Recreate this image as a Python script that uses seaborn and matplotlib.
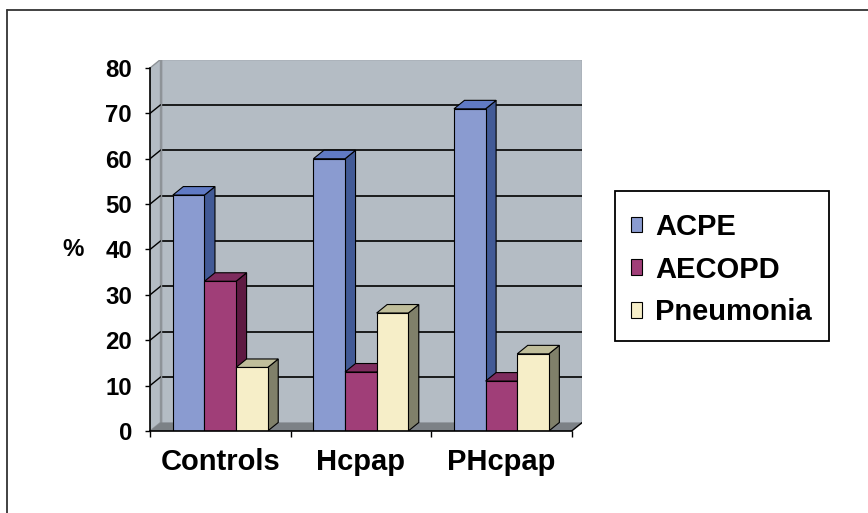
import numpy as np
import pandas as pd
import matplotlib
matplotlib.use("Agg")
import matplotlib.pyplot as plt
import seaborn as sns
from matplotlib.patches import Polygon, Patch, Rectangle
from matplotlib.lines import Line2D

# Percentages per patient group and diagnosis
groups = ["Controls", "Hcpap", "PHcpap"]
series = ["ACPE", "AECOPD", "Pneumonia"]
acpe = [52, 60, 71]
aecopd = [33, 13, 11]
pneumonia = [14, 26, 17]
y_ticks = [0, 10, 20, 30, 40, 50, 60, 70, 80]

# Face colours for the pseudo-3D columns: front, side, top
front_colors = {"ACPE": "#8a9bd0", "AECOPD": "#a03e78", "Pneumonia": "#f6eec8"}
side_colors = {"ACPE": "#425a96", "AECOPD": "#5e1a42", "Pneumonia": "#80806a"}
top_colors = {"ACPE": "#607ac4", "AECOPD": "#7e2c5e", "Pneumonia": "#c0be9b"}
wall_color = "#b4bcc4"
floor_color = "#7c8186"

df = pd.DataFrame({
    "group": groups * 3,
    "series": [s for s in series for _ in groups],
    "value": acpe + aecopd + pneumonia,
})

W, H = 868, 513
sns.set_style("white")
plt.rcParams["font.family"] = ["Liberation Sans", "DejaVu Sans"]
plt.rcParams["font.weight"] = "bold"
for key in ["text.color", "axes.labelcolor", "xtick.color", "ytick.color"]:
    plt.rcParams[key] = "black"

fig = plt.figure(figsize=(W / 100, H / 100), dpi=100)

# Front plane of the plot box in pixels, and the depth offset of the back wall
x_front0, x_front1 = 150.0, 571.7
y_base, y_top = 431.0, 68.0
ymax = 80
depth_px = (10.5, 8.5)
px_per_x = (x_front1 - x_front0) / 3
px_per_y = (y_base - y_top) / ymax
DX = depth_px[0] / px_per_x
DY = depth_px[1] / px_per_y

ax = fig.add_axes([x_front0 / W, (H - y_base) / H,
                   (x_front1 - x_front0 + depth_px[0]) / W,
                   (y_base - y_top + depth_px[1]) / H])
ax.patch.set_visible(False)

# Front faces of the columns
sns.barplot(data=df, x="group", y="value", hue="series", order=groups, hue_order=series,
            palette=front_colors, width=0.675, saturation=1, edgecolor="black",
            linewidth=0.8, legend=False, ax=ax)
bars = [p for p in ax.patches if isinstance(p, Rectangle)]

# Back wall, side wall and floor
xl, xr = -0.5, 2.5
ax.add_patch(Polygon([(xl + DX, DY), (xr + DX, DY), (xr + DX, ymax + DY), (xl + DX, ymax + DY)],
                     closed=True, facecolor=wall_color, edgecolor="#8e9398", lw=1.0, zorder=0))
ax.add_patch(Polygon([(xl, 0), (xl, ymax), (xl + DX, ymax + DY), (xl + DX, DY)],
                     closed=True, facecolor=wall_color, edgecolor="#8e9398", lw=1.0, zorder=0))
for v in y_ticks[1:-1]:
    ax.add_line(Line2D([xl + DX, xr + DX], [v + DY, v + DY], color="black", lw=1.2, zorder=0.5))
    ax.add_line(Line2D([xl, xl + DX], [v, v + DY], color="black", lw=1.0, zorder=0.5))
ax.add_patch(Polygon([(xl, 0), (xr, 0), (xr + DX, DY), (xl + DX, DY)],
                     closed=True, facecolor=floor_color, edgecolor="none", zorder=1))
ax.add_line(Line2D([xl + DX, xl + DX], [DY, ymax + DY], color="#8e9398", lw=1.0, zorder=0.6))
ax.add_line(Line2D([xr, xr + DX], [0, DY], color="black", lw=1.0, zorder=2))

# Side and top faces of each column, drawn left to right so nearer faces overlap
bars_sorted = sorted(bars, key=lambda p: p.get_x())
for k, p in enumerate(bars_sorted):
    x0, w, h = p.get_x(), p.get_width(), p.get_height()
    name = series[bars.index(p) // len(groups)]
    p.set_zorder(10 + 2 * k)
    ax.add_patch(Polygon([(x0 + w, 0), (x0 + w, h), (x0 + w + DX, h + DY), (x0 + w + DX, DY)],
                         closed=True, facecolor=side_colors[name], edgecolor="black",
                         lw=0.8, zorder=9 + 2 * k))
    ax.add_patch(Polygon([(x0, h), (x0 + w, h), (x0 + w + DX, h + DY), (x0 + DX, h + DY)],
                         closed=True, facecolor=top_colors[name], edgecolor="black",
                         lw=0.8, zorder=9 + 2 * k))

ax.set_xlim(xl, xr + DX)
ax.set_ylim(0, ymax + DY)
ax.set_xlabel("")
ax.set_ylabel("")

for s in ["top", "right"]:
    ax.spines[s].set_visible(False)
ax.spines["left"].set_bounds(0, ymax)
ax.spines["bottom"].set_bounds(xl, xr)
for s in ["left", "bottom"]:
    ax.spines[s].set_color("black")
    ax.spines[s].set_linewidth(1.2)
    ax.spines[s].set_zorder(50)

ax.set_yticks(y_ticks)
ax.set_yticklabels([str(v) for v in y_ticks])
ax.tick_params(axis="y", direction="out", length=3.6, width=1.0, pad=9.4,
               labelsize=17.3, colors="black", left=True)
ax.set_xticks([-0.5, 0.5, 1.5, 2.5])
ax.set_xticklabels(["", "", "", ""])
ax.set_xticks([0, 1, 2], minor=True)
ax.set_xticklabels(groups, minor=True)
ax.tick_params(axis="x", which="major", direction="out", length=4.5, width=1.0, bottom=True)
ax.tick_params(axis="x", which="minor", length=0, pad=12.5, labelsize=21, labelcolor="black")
for lab in ax.get_xticklabels(minor=True) + ax.get_yticklabels():
    lab.set_fontweight("bold")

fig.text(73 / W, 1 - 250 / H, "%", ha="center", va="center", fontsize=17.3,
         fontweight="bold", color="black")

# Legend entries, with a plain rectangular box around them
handles = [Patch(facecolor=front_colors[s], edgecolor="black", lw=0.8, label=s) for s in series]
leg = fig.legend(handles=handles, loc="upper left", bbox_to_anchor=(631 / W, 1 - 213 / H),
                 frameon=False, prop={"size": 21, "weight": "bold"},
                 handlelength=0.38, handleheight=0.45, handletextpad=0.45,
                 labelspacing=0.50, borderpad=0, borderaxespad=0)
for t in leg.get_texts():
    t.set_color("black")
fig.add_artist(Rectangle((615 / W, 1 - 341 / H), (829 - 615) / W, (341 - 191) / H,
                         transform=fig.transFigure, facecolor="none", edgecolor="black",
                         lw=1.3))

# Outer chart frame
fig.add_artist(Line2D([7 / W, 1.0], [1 - 10 / H, 1 - 10 / H], transform=fig.transFigure,
                      color="#333333", lw=1.3))
fig.add_artist(Line2D([7 / W, 7 / W], [0, 1 - 10 / H], transform=fig.transFigure,
                      color="#333333", lw=1.3))

fig.savefig("out.png", dpi=100)
